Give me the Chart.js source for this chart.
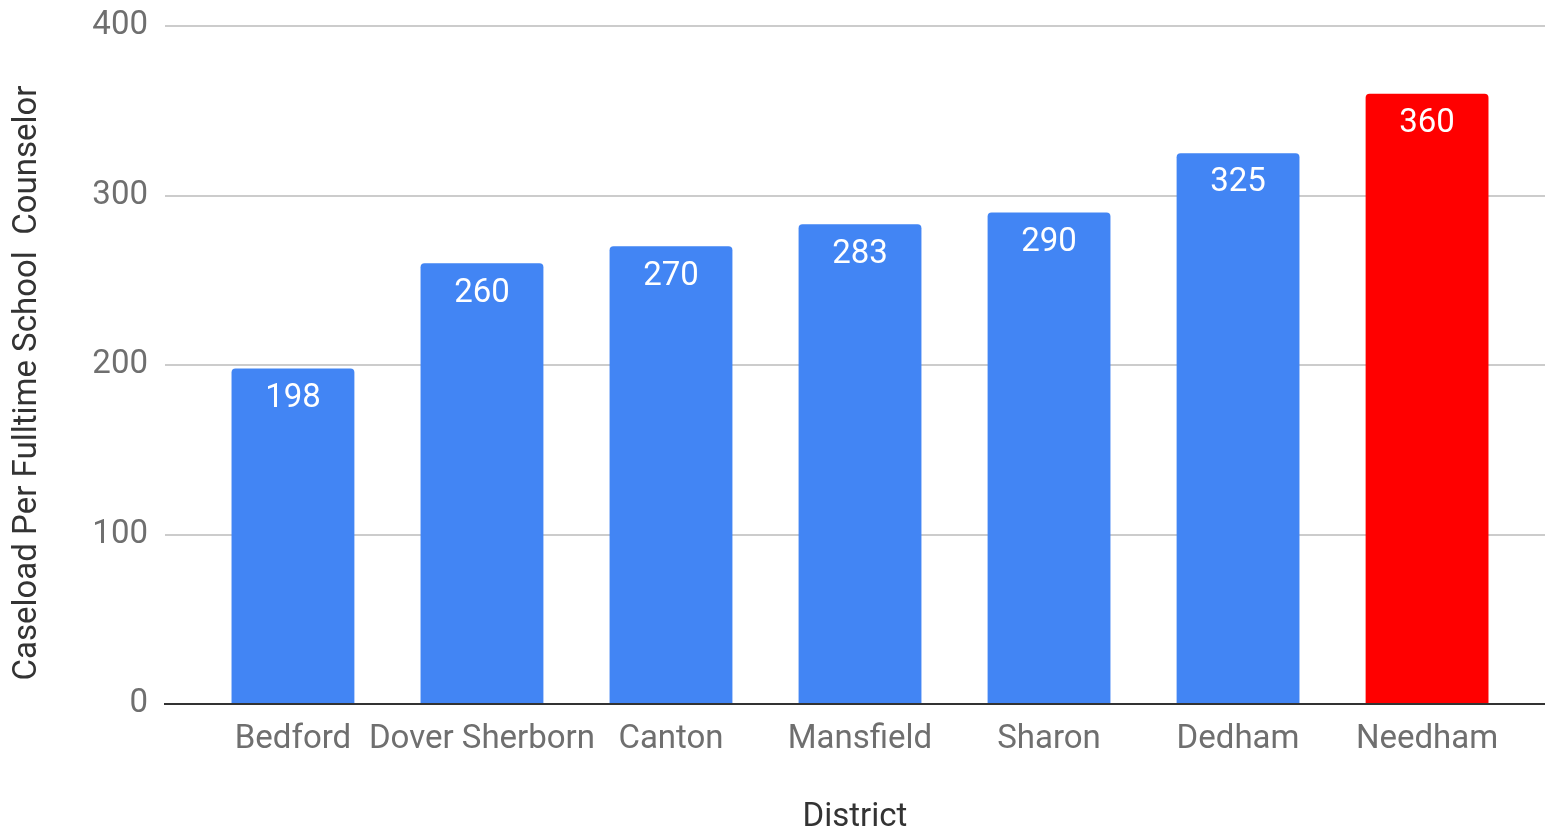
<!DOCTYPE html>
<html>
<head>
<meta charset="utf-8">
<script src="https://cdn.jsdelivr.net/npm/chart.js@4"></script>
<style>
  html, body { margin: 0; padding: 0; background: #fff; }
  canvas { display: block; }
</style>
</head>
<body>
<canvas id="chart" width="1545" height="832"></canvas>
<script>
const districts = ['Bedford', 'Dover Sherborn', 'Canton', 'Mansfield', 'Sharon', 'Dedham', 'Needham'];
const caseload = [198, 260, 270, 283, 290, 325, 360];
const barColors = ['#4285f4', '#4285f4', '#4285f4', '#4285f4', '#4285f4', '#4285f4', '#ff0000'];
const yTicks = [0, 100, 200, 300, 400];

const FONT = 'Roboto';
const SIZE = 33;

// value labels inside the top of each bar
const barLabels = {
  id: 'barLabels',
  afterDatasetsDraw(chart) {
    const ctx = chart.ctx;
    const meta = chart.getDatasetMeta(0);
    ctx.save();
    ctx.fillStyle = '#ffffff';
    ctx.font = SIZE + 'px ' + FONT;
    ctx.textAlign = 'center';
    ctx.textBaseline = 'middle';
    meta.data.forEach((bar, i) => {
      ctx.fillText(String(caseload[i]), bar.x, bar.y + 30);
    });
    ctx.restore();
  }
};

// the y title sits a bit below the middle of the plot
function shiftYTitle(scale) {
  if (scale._titleShifted) return;
  const orig = scale.drawTitle;
  scale.drawTitle = function () {
    this.ctx.save();
    this.ctx.translate(0, 18);
    orig.call(this);
    this.ctx.restore();
  };
  scale._titleShifted = true;
}

new Chart(document.getElementById('chart'), {
  type: 'bar',
  data: {
    datasets: [{
      data: caseload.map((v, i) => ({ x: i, y: v })),
      backgroundColor: barColors,
      borderRadius: 4,
      borderSkipped: 'start',
      barPercentage: 0.65,
      categoryPercentage: 1
    }]
  },
  options: {
    responsive: false,
    animation: false,
    layout: { padding: { top: 26, right: 0, left: 0, bottom: 0 } },
    plugins: {
      legend: { display: false },
      tooltip: { enabled: false }
    },
    scales: {
      x: {
        type: 'linear',
        offset: false,
        min: -0.677,
        max: 6.624,
        afterBuildTicks: scale => { scale.ticks = districts.map((_, i) => ({ value: i })); },
        afterFit: scale => { scale.height = 128; },
        grid: { display: false, drawTicks: false },
        border: { display: true, color: '#333333', width: 2 },
        ticks: {
          padding: 16,
          color: '#6f6f6f',
          font: { family: FONT, size: SIZE },
          maxRotation: 0,
          autoSkip: false,
          callback: v => districts[v]
        },
        title: {
          display: true,
          text: 'District',
          color: '#333333',
          font: { family: FONT, size: SIZE, lineHeight: 0.85 },
          padding: { top: 0, bottom: 0 }
        }
      },
      y: {
        min: 0,
        max: 400,
        afterBuildTicks: scale => { scale.ticks = yTicks.map(v => ({ value: v })); },
        afterFit: scale => {
          scale.width = 165;
          scale.paddingTop = 0;
          scale.paddingBottom = 0;
        },
        afterUpdate: shiftYTitle,
        grid: {
          drawTicks: false,
          lineWidth: 2,
          color: ctx => ctx.tick && ctx.tick.value === 0 ? 'rgba(0,0,0,0)' : '#cccccc'
        },
        border: { display: false },
        ticks: {
          padding: 17,
          color: '#6f6f6f',
          font: { family: FONT, size: SIZE }
        },
        title: {
          display: true,
          text: 'Caseload Per Fulltime School  Counselor',
          color: '#333333',
          font: { family: FONT, size: SIZE, lineHeight: 1 },
          padding: { top: 11, bottom: 0 }
        }
      }
    }
  },
  plugins: [barLabels]
});
</script>
</body>
</html>
